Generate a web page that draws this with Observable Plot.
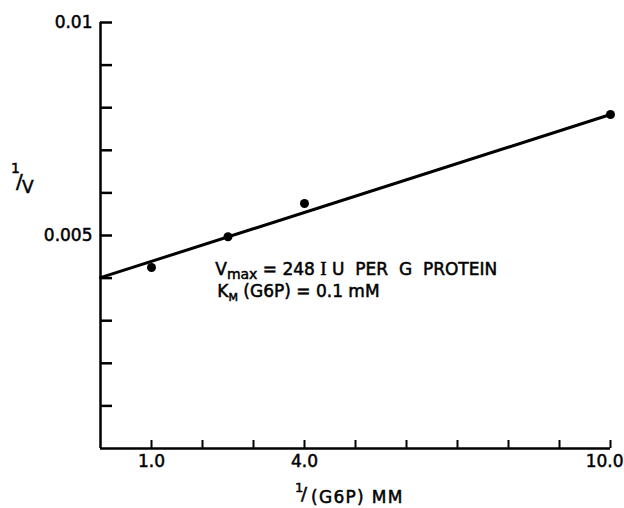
<!DOCTYPE html>
<html><head><meta charset="utf-8">
<script src="https://cdn.jsdelivr.net/npm/d3@7"></script>
<script src="https://cdn.jsdelivr.net/npm/@observablehq/plot@0.6"></script>
<style>body{margin:0;background:#fff} svg{display:block}</style>
</head><body><div id="chart"></div>
<script>
// Data (Lineweaver–Burk plot)
const substrateInv = [1.0, 2.5, 4.0, 10.0];          // 1/(G6P) mM
const velocityInv = [0.00425, 0.00497, 0.00575, 0.00784]; // 1/V
const fitX = [0, 10];
const fitY = [0.00401, 0.00784];
const xTicks = [1, 2, 3, 4, 5, 6, 7, 8, 9, 10];
const xTickLabels = ["1.0", "", "", "4.0", "", "", "", "", "", "10.0"];
const yTicks = [0.001, 0.002, 0.003, 0.004, 0.005, 0.006, 0.007, 0.008, 0.009, 0.01];
const yTickLabels = ["", "", "", "", "0.005", "", "", "", "", "0.01"];
const annotation1 = ["V", "max", " = 248 ", "I", " U  PER  G  PROTEIN"];
const annotation2 = ["K", "M", " (G6P) = 0.1 mM"];

const points = substrateInv.map((x, i) => ({x, y: velocityInv[i]}));
const fit = fitX.map((x, i) => ({x, y: fitY[i]}));
const font = "'DejaVu Sans', sans-serif";

const plot = Plot.plot({
  width: 624, height: 508,
  marginLeft: 100, marginRight: 14, marginTop: 22, marginBottom: 60,
  style: {fontFamily: font, fontSize: "17px", color: "#000", background: "#fff", overflow: "visible"},
  x: {domain: [0, 10]},
  y: {domain: [0, 0.01]},
  marks: [
    Plot.axisX({ticks: xTicks, tickSize: -8, tickPadding: 14, strokeWidth: 2,
      tickFormat: d => xTickLabels[xTicks.indexOf(d)], label: null}),
    Plot.axisY({ticks: yTicks, tickSize: -12, tickPadding: 20, strokeWidth: 2.5,
      tickFormat: d => yTickLabels[yTicks.indexOf(d)], label: null}),
    Plot.ruleX([0], {strokeWidth: 2.5}),
    Plot.ruleY([0], {strokeWidth: 2.5}),
    Plot.line(fit, {x: "x", y: "y", strokeWidth: 3}),
    Plot.dot(points, {x: "x", y: "y", r: 4.5, fill: "black", stroke: "none"})
  ]
});

const svg = d3.select(plot);
const sx = plot.scale("x"), sy = plot.scale("y");

// thicken tick label strokes a little, and pull "10.0" inside the frame
svg.selectAll("g[aria-label='x-axis tick label'] text, g[aria-label='y-axis tick label'] text")
  .attr("stroke", "#000").attr("stroke-width", 0.5);
svg.selectAll("g[aria-label='x-axis tick label'] text")
  .filter(function() { return this.textContent === "10.0"; })
  .attr("text-anchor", "end").attr("dx", 13);

function addText() {
  return svg.append("text").attr("font-family", font).attr("fill", "#000")
    .attr("text-anchor", "start").attr("stroke", "#000").attr("stroke-width", 0.5);
}

// Y axis label  1/V
const yl = addText();
yl.append("tspan").attr("x", 11).attr("y", 173).attr("font-size", 14).text("1");
yl.append("tspan").attr("x", 16).attr("y", 188).attr("font-size", 20).text("/");
yl.append("tspan").attr("x", 22).attr("y", 193).attr("font-size", 17).text("V");

// X axis label 1/(G6P) MM
const xl = addText();
xl.append("tspan").attr("x", 295).attr("y", 492).attr("font-size", 13).text("1");
xl.append("tspan").attr("x", 301).attr("y", 500).attr("font-size", 18).text("/");
xl.append("tspan").attr("x", 311).attr("y", 503).attr("font-size", 17)
  .attr("letter-spacing", 1.3).text("(G6P) MM");

// Annotation
const a1 = addText().attr("font-size", 17)
  .attr("x", sx.apply(2.26)).attr("y", sy.apply(0.00405));
a1.append("tspan").text(annotation1[0]);
a1.append("tspan").attr("font-size", 14).attr("dy", 4).text(annotation1[1]);
a1.append("tspan").attr("dy", -4).text(annotation1[2]);
a1.append("tspan").attr("font-family", "'Liberation Serif', serif").attr("font-size", 19).text(annotation1[3]);
a1.append("tspan").text(annotation1[4]);

const a2 = addText().attr("font-size", 17)
  .attr("x", sx.apply(2.3)).attr("y", sy.apply(0.00354));
a2.append("tspan").text(annotation2[0]);
a2.append("tspan").attr("font-size", 11).attr("dy", 4).text(annotation2[1]);
a2.append("tspan").attr("dy", -4).text(annotation2[2]);

document.getElementById("chart").appendChild(plot);
</script>
</body></html>
